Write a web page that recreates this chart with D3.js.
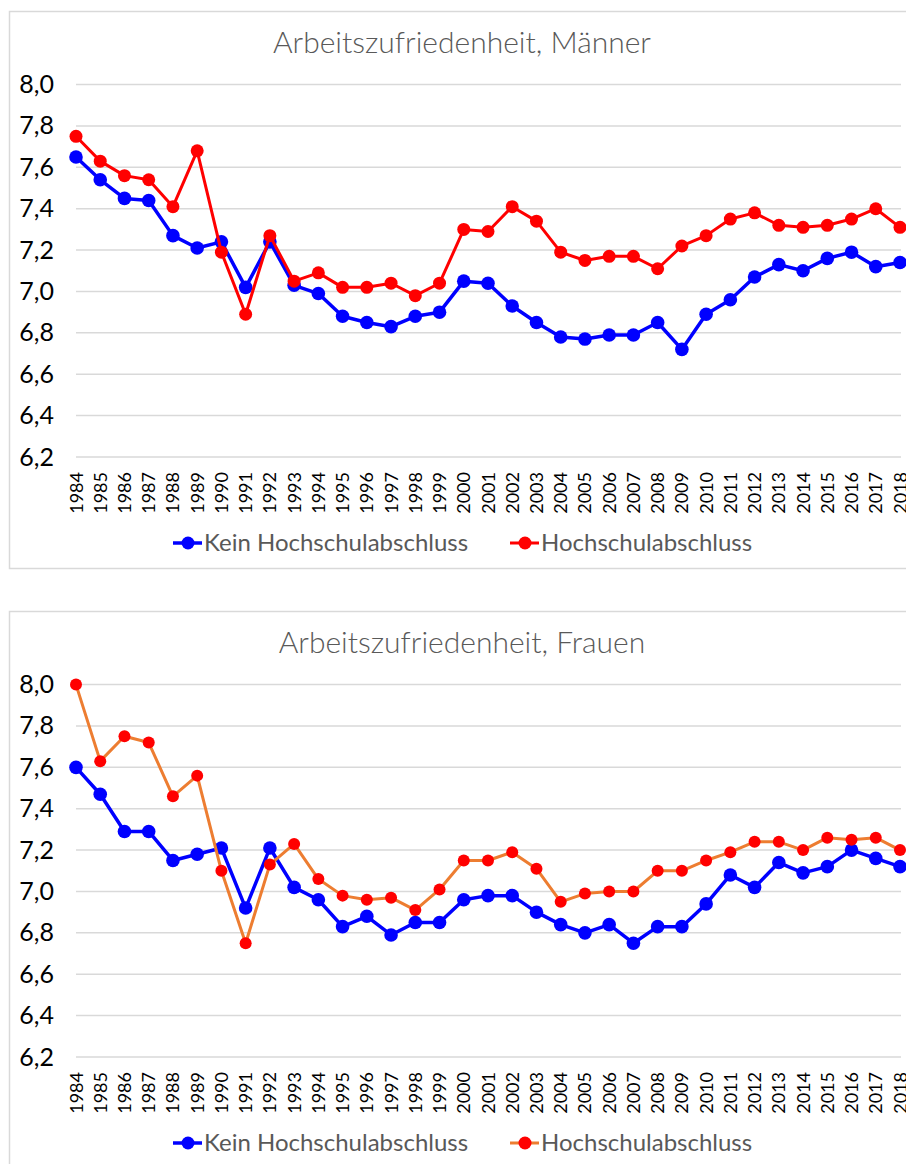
<!DOCTYPE html>
<html>
<head>
<meta charset="utf-8">
<script src="https://cdn.jsdelivr.net/npm/d3@7"></script>
<style>
  body { margin: 0; background: #fff; }
  text { font-family: Lato, "Noto Sans", sans-serif; }
</style>
</head>
<body>
<div id="chart"></div>
<script>
const years = d3.range(1984, 2019);
const yTicks = [6.2, 6.4, 6.6, 6.8, 7.0, 7.2, 7.4, 7.6, 7.8, 8.0];
const seriesNames = ["Kein Hochschulabschluss", "Hochschulabschluss"];

const menKein = [7.65, 7.54, 7.45, 7.44, 7.27, 7.21, 7.24, 7.02, 7.24, 7.03,
  6.99, 6.88, 6.85, 6.83, 6.88, 6.90, 7.05, 7.04, 6.93, 6.85,
  6.78, 6.77, 6.79, 6.79, 6.85, 6.72, 6.89, 6.96, 7.07, 7.13,
  7.10, 7.16, 7.19, 7.12, 7.14];
const menHoch = [7.75, 7.63, 7.56, 7.54, 7.41, 7.68, 7.19, 6.89, 7.27, 7.05,
  7.09, 7.02, 7.02, 7.04, 6.98, 7.04, 7.30, 7.29, 7.41, 7.34,
  7.19, 7.15, 7.17, 7.17, 7.11, 7.22, 7.27, 7.35, 7.38, 7.32,
  7.31, 7.32, 7.35, 7.40, 7.31];
const womenKein = [7.60, 7.47, 7.29, 7.29, 7.15, 7.18, 7.21, 6.92, 7.21, 7.02,
  6.96, 6.83, 6.88, 6.79, 6.85, 6.85, 6.96, 6.98, 6.98, 6.90,
  6.84, 6.80, 6.84, 6.75, 6.83, 6.83, 6.94, 7.08, 7.02, 7.14,
  7.09, 7.12, 7.20, 7.16, 7.12];
const womenHoch = [8.00, 7.63, 7.75, 7.72, 7.46, 7.56, 7.10, 6.75, 7.13, 7.23,
  7.06, 6.98, 6.96, 6.97, 6.91, 7.01, 7.15, 7.15, 7.19, 7.11,
  6.95, 6.99, 7.00, 7.00, 7.10, 7.10, 7.15, 7.19, 7.24, 7.24,
  7.20, 7.26, 7.25, 7.26, 7.20];

const W = 906, H = 1164;
const svg = d3.select("#chart").append("svg")
  .attr("width", W).attr("height", H);

const charts = [
  { title: "Arbeitszufriedenheit, Männer", top: 0, kein: menKein, hoch: menHoch,
    keinLine: "#0000FF", hochLine: "#FF0000", hochR: 6.5 },
  { title: "Arbeitszufriedenheit, Frauen", top: 600, kein: womenKein, hoch: womenHoch,
    keinLine: "#0000FF", hochLine: "#ED7D31", hochR: 6 }
];

const x = d3.scalePoint().domain(years).range([76, 900]);

charts.forEach((c, ci) => {
  const g = svg.append("g").attr("transform", `translate(0,${c.top})`);

  // card frame
  g.append("rect")
    .attr("x", 9.5).attr("y", 11.5)
    .attr("width", 920).attr("height", ci === 0 ? 557 : 700)
    .attr("fill", "none").attr("stroke", "#D9D9D9").attr("stroke-width", 1.5);

  const y = d3.scaleLinear().domain([6.2, 8.0]).range([457, 84.6]);

  // gridlines
  g.append("g").selectAll("line").data(yTicks).join("line")
    .attr("x1", 76).attr("x2", 901)
    .attr("y1", d => y(d)).attr("y2", d => y(d))
    .attr("stroke", "#D9D9D9").attr("stroke-width", 1.5);

  // y axis labels
  const yAxis = d3.axisLeft(y).tickValues(yTicks).tickSize(0).tickPadding(0)
    .tickFormat(d => d3.format(".1f")(d).replace(".", ","));
  g.append("g").attr("transform", "translate(54,0)").call(yAxis)
    .call(a => a.select(".domain").remove())
    .selectAll("text")
    .style("font-family", "Lato, 'Noto Sans', sans-serif")
    .style("font-size", "25px").attr("fill", "#000");

  // x axis labels (rotated)
  const xAxis = d3.axisBottom(x).tickSize(0).tickPadding(0);
  g.append("g").attr("transform", "translate(0,457)").call(xAxis)
    .call(a => a.select(".domain").remove())
    .selectAll("text")
    .style("font-family", "Lato, 'Noto Sans', sans-serif")
    .style("font-size", "18px").attr("fill", "#000")
    .attr("text-anchor", "end")
    .attr("dy", null)
    .attr("y", 0)
    .attr("transform", "translate(6,15) rotate(-90)");

  // title
  g.append("text")
    .attr("x", 462).attr("y", 42).attr("dy", "0.35em")
    .attr("text-anchor", "middle")
    .attr("fill", "#595959").style("font-size", "30px").style("font-weight", 300)
    .text(c.title);

  const line = d3.line().x((d, i) => x(years[i])).y(d => y(d));

  const series = [
    { vals: c.kein, stroke: c.keinLine, dot: "#0000FF", w: 3.5, r: 6.8 },
    { vals: c.hoch, stroke: c.hochLine, dot: "#FF0000", w: 3, r: c.hochR }
  ];

  series.forEach(s => {
    g.append("path").datum(s.vals)
      .attr("d", line).attr("fill", "none")
      .attr("stroke", s.stroke).attr("stroke-width", s.w)
      .attr("stroke-linejoin", "round");
    g.append("g").selectAll("circle").data(s.vals).join("circle")
      .attr("cx", (d, i) => x(years[i])).attr("cy", d => y(d))
      .attr("r", s.r).attr("fill", s.dot);
  });

  // legend
  const legX = [173, 510];
  series.forEach((s, i) => {
    const lg = g.append("g").attr("transform", `translate(${legX[i]},543)`);
    lg.append("line").attr("x1", 0).attr("x2", 29)
      .attr("stroke", s.stroke).attr("stroke-width", s.w);
    lg.append("circle").attr("cx", 15).attr("r", 6.5).attr("fill", s.dot);
    lg.append("text").attr("x", 31).attr("dy", "0.35em")
      .attr("fill", "#595959").style("font-size", "24px")
      .text(seriesNames[i]);
  });
});
</script>
</body>
</html>
